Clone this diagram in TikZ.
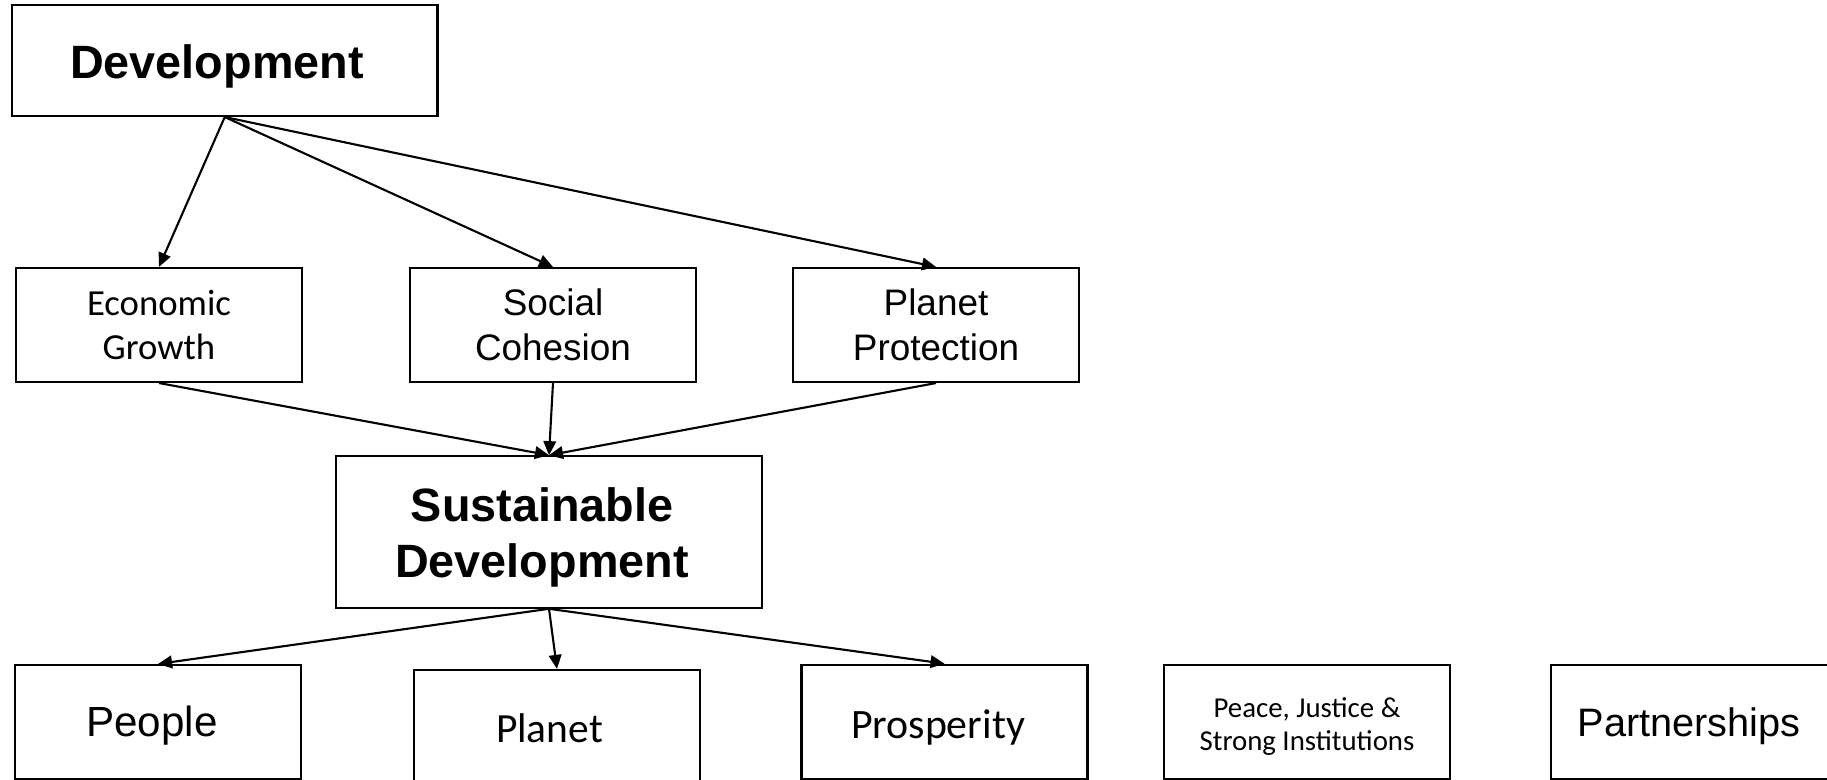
\documentclass[tikz,border=0pt]{standalone}
\usepackage{fontspec}
\setmainfont{Liberation Sans}
\newfontfamily\calibrifont{Carlito}
\usetikzlibrary{arrows.meta}

\begin{document}
\begin{tikzpicture}[
    box/.style={
        draw, rectangle, line width=0.6pt,
        minimum width=2.86cm, minimum height=1.14cm,
        inner sep=0pt, align=center
    },
    headbox/.style={
        box, minimum width=4.255cm,
        font=\fontsize{13.3}{16}\selectfont\bfseries
    },
    flow/.style={-{Triangle[length=4pt,width=3.6pt]}, line width=0.6pt}
]
    \useasboundingbox (0,0) rectangle (18.27,7.8);

    % Top: Development
    \node[headbox, minimum height=1.11cm, text height=10.5pt, text depth=0pt] (dev) at (2.2475,7.195)
        {\hspace*{-0.155cm}Development};

    % Three pillars
    \node[box, font={\calibrifont\fontsize{10.45}{12.75}\selectfont}] (econ) at (1.59,4.55) {Economic\\Growth};
    \node[box, font={\fontsize{10.5}{12.8}\selectfont}] (social) at (5.53,4.55) {Social\\Cohesion};
    \node[box, font={\fontsize{10.5}{12.8}\selectfont}] (pprot) at (9.36,4.55) {Planet\\Protection};

    % Middle: Sustainable Development
    \node[headbox, minimum height=1.515cm] (sd) at (5.49,2.48)
        {\rule{0pt}{12.9pt}\hspace*{-0.14cm}Sustainable\\\hspace*{-0.14cm}Development};

    % The five Ps
    \node[box, font={\fontsize{12}{14}\selectfont}, text height=8.54pt, text depth=0pt] (people) at (1.58,0.58)
        {\hspace*{-0.12cm}People};
    \node[box, font={\calibrifont\fontsize{11.8}{14}\selectfont}, text height=8.94pt, text depth=0pt] (planet) at (5.57,0.53)
        {\hspace*{-0.15cm}Planet};
    \node[box, font={\calibrifont\fontsize{11.9}{14}\selectfont}, text height=9.4pt, text depth=0pt] (prosp) at (9.445,0.5825)
        {\hspace*{-0.13cm}Prosperity};
    \node[box, font={\calibrifont\fontsize{8.2}{9.5}\selectfont}] (peace) at (13.07,0.58)
        {\rule{0pt}{8.4pt}Peace, Justice \&\\Strong Institutions};
    \node[box, font={\fontsize{11.3}{13.5}\selectfont}, text height=8.4pt, text depth=0pt] (partner) at (16.94,0.58)
        {\hspace*{-0.1cm}Partnerships};

    % Arrows
    \draw[flow] (dev.south) -- (econ.north);
    \draw[flow] (dev.south) -- (social.north);
    \draw[flow] (dev.south) -- (pprot.north);
    \draw[flow] (econ.south) -- (sd.north);
    \draw[flow] (social.south) -- (sd.north);
    \draw[flow] (pprot.south) -- (sd.north);
    \draw[flow] (sd.south) -- (people.north);
    \draw[flow] (sd.south) -- (planet.north);
    \draw[flow] (sd.south) -- (prosp.north);

\end{tikzpicture}
\end{document}
